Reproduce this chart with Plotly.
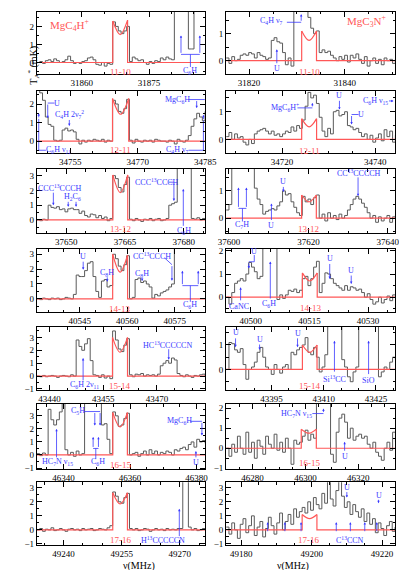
import plotly.graph_objects as go

FONT = "Liberation Serif"
GRAY = "#5a5a5a"
RED = "#ff5757"
BLUE = "#3838ff"

# ---- channel grids (first channel, channel width, MHz) ----
f_first = [31850.0, 31815.2, 34747.6, 34708.0, 37642.5, 37599.3, 40531.5,
           40493.7, 43436.5, 43382.0, 46332.0, 46270.0, 49233.1, 49175.7]
f_step = [0.625, 0.59, 0.623, 0.605, 0.717, 0.71, 0.885,
          0.722, 0.783, 0.81, 0.843, 1.067, 0.725, 0.8]

# ---- observed antenna temperatures (mK); 5 = off scale ----
ta1 = [0.0, 0.05, -0.05, 0.1, 0.15, 0.05, 0.2, 0.1, 0.0, 0.05, 0.15, 0.35, 0.1, -0.05, 0.0, -0.05,
       0.05, 0.1, 0.25, 0.3, 0.15, -0.1, -0.15, 0.0, -0.2, -0.05, -0.1, 2.25, 2.0, 1.75, 1.6, 1.75,
       2.0, 0.05, 0.3, 0.2, 0.1, 0.15, 0.0, -0.1, 0.05, -0.05, 0.1, 0.05, 0.25, 0.15, 0.3, 0.2, 0.15,
       5, 5, 5, 5, 5, 0.75, 0.75, 5, 5, 5, 5, 5]
ta2 = [0.1, -0.1, 0.15, 0.0, 0.05, 0.2, 0.25, 0.2, 0.3, 0.25, 0.1, 0.3, 0.2, 0.15, 0.05, 0.1, 0.75,
       0.85, 0.7, 0.65, 0.3, -0.15, 0.1, -0.2, 5, 5, 5, 5, 5, 1.6, 1.2, 1.0, 1.1, 0.3, 0.4, 0.3, 0.35,
       0.2, 0.1, 0.0, 0.15, 0.05, 0.2, -0.05, 0.2, 0.1, 0.25, 0.05, -0.1, 0.15, -0.2, 0.0, 0.1, -0.1,
       0.05, -0.15, 0.1, 0.0, 0.05, -0.1, 0.05]
ta3 = [3, 2.6, 2.2, 1.3, 0.9, 0.8, 0.05, 0.0, 0.05, 0.6, 0.7, 0.55, 0.6, 0.5, 0.1, -0.15, 0.05, -0.05,
       0.05, 0.0, 0.1, 0.05, 0.0, 0.1, -0.05, 0.05, 0.0, 2.2, 2.0, 1.6, 1.5, 1.75, 2.25, 0.05, -0.1,
       0.1, 0.0, -0.05, 0.05, 0.0, 0.05, -0.05, 0.1, 0.05, 0.0, 0.0, -0.05, 0.05, 0.0, -0.15, 0.1, 0.0,
       -0.05, 0.05, 0.3, 0.8, 1.2, 1.5, 1.3, 1.1, 1.6]
ta4 = [0.1, 0.25, 0.0, 0.2, 0.05, 0.1, -0.1, -0.2, 0.0, -0.15, 0.2, 0.3, 0.35, 0.4, 0.3, 0.2, 0.3, 0.15,
       0.2, 0.1, 0.2, 0.3, 0.25, 0.45, 0.3, 0.5, 0.4, 0.7, 1.2, 1.7, 1.5, 1.6, 1.3, 0.8, 0.3, 0.1, 0.4,
       0.2, 1.0, 1.05, 0.85, 0.9, 1.0, 0.5, 0.45, 0.35, 0.4, 0.25, 0.1, 0.2, 0.0, 0.15, -0.1, 0.05, 0.2,
       -0.05, 0.35, 0.1, 0.3, -0.1, 0.15]
ta5 = [0.0, -0.05, 0.05, 0.0, 1.0, 0.85, 0.8, 0.9, 0.7, 0.75, 0.55, 0.75, 0.8, 0.7, 0.7, 0.45, 0.6, 0.3,
       0.2, 0.4, 0.35, 0.15, 0.3, 0.1, 0.2, -0.05, 0.1, 3.0, 2.8, 2.2, 1.9, 2.4, 2.9, 0.05, -0.05, 0.1,
       0.0, -0.1, 0.05, 0.0, 0.1, -0.05, 0.05, 0.1, -0.05, 0.0, 0.1, 1.0, 1.1, 1.2, 5, 5, 5, 5, 5, 0.1,
       0.05, 0.15, 0.0, 0.1, 0.05]
ta6 = [0.3, 0.5, 5, 5, 5, 5, 5, 5, 5, 5, 1.1, 0.7, 0.5, 0.15, 0.25, 0.3, 0.35, 0.3, 0.45, 0.6, 1.0, 0.85,
       0.9, 0.6, 0.4, 0.2, 0.1, 0.8, 0.6, 0.7, 0.5, 0.75, 0.85, 0.0, 0.15, -0.1, 0.2, 0.0, 0.1, -0.05,
       0.15, 0.0, 0.1, 0.3, 0.5, 0.7, 0.8, 0.7, 0.55, 0.4, 0.2, 0.0, 0.1, -0.15, 0.05, -0.1, 0.0, 0.1,
       -0.15, 0.05, 0.1]
ta7 = [0.0, -0.05, 0.05, 0.0, -0.05, 0.05, 0.0, 0.05, -0.05, 0.0, 0.1, 0.05, 0.0, 0.3, 1.6, 1.5, 1.5,
       1.9, 2.4, 2.5, 1.5, 0.5, 0.1, 1.2, 1.3, 0.8, 0.9, 3.0, 2.7, 2.2, 1.9, 2.3, 2.9, 0.0, 0.1, 1.3,
       1.4, 1.1, 1.2, 1.0, 0.8, 0.05, 0.3, 0.2, 0.4, 0.5, 0.6, 0.8, 1.0, 5, 5, 5, 5, 5, 5, 5, 5, 5, 5,
       5, 5]
ta8 = [0.0, -0.3, 0.2, 0.6, 0.7, 0.8, 0.7, 1.0, 1.5, 1.3, 1.1, 0.8, 0.9, 5, 5, 5, 5, 5, -0.1, 0.1,
       -0.05, 0.1, 0.3, 0.25, 0.35, 0.2, 0.3, 0.8, 0.9, 0.5, 0.8, 1.3, 1.55, 0.2, 0.6, 1.05, 1.0, 0.8,
       0.6, 0.5, 0.4, 0.3, 0.5, 0.3, 0.45, 0.4, 0.3, 0.35, 0.2, 0.0, 0.15, -0.1, -0.3, -0.2, 0.0, -0.25,
       -0.1, 0.05, -0.15, 0.1, 0.0]
ta9 = [0.0, -0.05, 0.05, -0.05, 0.0, 0.05, 0.0, -0.1, 0.0, 0.05, 0.0, -0.05, 0.1, 0.0, 2.8, 2.3, 2.0,
       2.5, 2.9, 1.2, 0.1, 0.05, -0.1, 0.1, -0.15, 0.0, -0.2, 3.5, 2.8, 2.1, 1.9, 2.4, 2.9, 0.1, -0.05,
       0.15, 0.1, 0.2, 0.0, 0.1, 0.05, 0.1, 0.0, 0.15, 0.8, 1.0, 1.2, 1.0, 1.4, 1.25, 0.2, 0.05, -0.05,
       0.1, 0.0, -0.1, 0.05, 0.0, 0.1, 0.15, 0.0]
ta10 = [0.0, 1.1, 1.05, 0.8, 0.7, 0.85, 0.2, -0.4, 0.0, 0.1, 0.3, 0.7, 0.9, 0.5, 0.1, 0.0, -0.2, 0.2,
        0.0, -0.15, 0.1, 0.2, 0.0, 0.7, 0.6, 0.8, 0.9, 1.0, 1.3, 0.7, 0.6, 0.9, 0.5, -0.1, 0.1, 0.6, 5,
        5, 5, 5, 5, 0.4, 0.1, -0.3, -0.5, -0.1, 0.1, 5, 5, 5, 5, 5, 5, 5, -0.3, -0.1, 0.1, 0.0, 0.3,
        0.5, 0.4]
ta11 = [0.1, -0.05, 0.15, 0.0, 3.5, 2.7, 2.3, 2.7, 3.3, 5, 0.4, 0.0, 0.2, -0.1, 0.3, 0.0, 0.1, 5, 5, 5,
        5, 5, 5, 2.3, 2.4, 1.2, 0.1, 3.3, 3.0, 2.2, 2.3, 2.8, 3.2, 0.0, 0.1, 0.2, -0.1, 0.1, 0.3, 0.0,
        0.4, 0.1, 0.3, 0.0, 0.2, 0.1, 0.3, 0.2, 0.0, 0.4, 0.3, 0.5, 0.6, 0.4, 0.8, 1.0, 0.6, 1.2, 1.0,
        1.1, 0.9]
ta12 = [0.0, -0.4, 0.2, -0.2, 0.6, 0.0, -0.3, 0.8, -0.2, 0.3, -0.5, 0.4, 0.1, -0.3, 0.6, 0.2, 0.0, 0.7,
        -0.1, 0.3, -0.2, 0.5, 0.0, -0.8, 0.4, 0.2, 0.3, 0.6, 0.9, 0.4, 0.7, 0.5, 5, 5, 5, 5, 5, -0.3,
        -0.7, 0.8, 1.5, 1.7, 1.3, 0.5, 1.0, 0.4, 0.6, 0.7, 0.5, 0.6, 0.2, 0.0, 0.3, -0.2, -0.4, -0.6,
        0.0, 0.3, -0.1, 0.8, 0.3]
ta13 = [0.0, 0.1, -0.1, 0.05, 0.0, 0.15, -0.05, 0.0, 0.1, 0.0, -0.1, 0.05, 0.1, 0.0, 0.05, -0.05, 0.1,
        0.0, 0.05, 0.1, -0.05, 0.0, 0.1, 0.05, 0.0, 0.15, 0.3, 2.7, 2.4, 2.0, 1.9, 2.3, 2.6, 0.1, 0.0,
        0.1, -0.05, 0.0, 0.1, 0.05, -0.1, 0.0, 0.1, 0.0, 0.05, -0.05, 0.1, 0.0, 0.05, 0.0, 0.1, 0.1, 5,
        5, 0.2, 0.0, 0.1, -0.05, 0.0, 0.1, 0.05]
ta14 = [0.2, -0.3, 0.5, 0.0, -0.6, 0.4, 0.8, -0.2, 0.3, 1.0, -0.4, 0.2, 0.6, -0.5, 0.1, 0.9, 0.3, -0.3,
        0.5, 1.2, 0.0, 0.6, 1.1, 0.4, 1.5, 0.9, 1.3, 1.6, 1.2, 2.0, 1.4, 2.3, 1.8, 1.5, 2.6, 1.9, 5, 2.2,
        1.7, 2.8, 5, 2.4, 1.6, 2.0, 1.1, 1.8, 1.3, 0.9, 1.5, 0.6, 1.2, 0.4, 0.8, -0.2, 0.5, 0.1, -0.4,
        0.3, 0.6, -0.1, 0.2]

# ---- model line profiles: edges (MHz), horn and centre intensities (mK) ----
model_lo = [31866.9, 31831.0, 34764.4, 34724.2, 37661.9, 37618.3, 40555.4,
            40513.2, 43457.6, 43403.9, 46354.8, 46298.4, 49252.7, 49197.3]
model_hi = [31870.2, 31834.1, 34768.0, 34727.4, 37665.7, 37622.0, 40560.1,
            40517.0, 43461.8, 43408.1, 46359.2, 46304.1, 49256.5, 49201.5]
model_left = [2.3, 1.1, 2.3, 0.75, 3.05, 0.85, 3.0, 1.05, 3.0, 1.0, 3.25, 0.95, 2.65, 1.1]
model_mid = [1.55, 0.75, 1.45, 0.45, 1.85, 0.6, 1.8, 0.7, 1.85, 0.7, 2.15, 0.75, 1.85, 0.8]
model_right = [2.35, 1.1, 2.3, 0.75, 3.05, 0.85, 2.95, 1.05, 3.0, 1.0, 3.25, 0.95, 2.65, 1.1]

trans = ["11-10", "11-10", "12-11", "12-11", "13-12", "13-12", "14-13",
         "14-13", "15-14", "15-14", "16-15", "16-15", "17-16", "17-16"]
trans_x = [31868.6, 31832.6, 34766.2, 34725.8, 37663.9, 37620.0, 40557.4,
           40515.4, 43459.7, 43405.8, 46357.1, 46301.4, 49254.7, 49199.0]
trans_y = [-0.5, -0.4, -0.5, -0.42, -0.6, -0.39, -0.65, -0.46, -0.76, -0.69, -0.8, -0.76, -0.75, -0.75]

# ---- axes ----
x_range = [[31850, 31887.5], [31815.2, 31850.6], [34747.6, 34785], [34708, 34744.3],
           [37642.5, 37685.5], [37599.3, 37641.9], [40531.5, 40584.6], [40493.7, 40537],
           [43436.5, 43483.5], [43382, 43430.6], [46332, 46382.6], [46270, 46334],
           [49233.1, 49276.6], [49175.7, 49223.8]]
y_range = [[-0.65, 2.8], [-0.5, 1.8], [-0.65, 2.7], [-0.5, 1.75], [-0.9, 3.45], [-0.55, 1.8],
           [-0.9, 3.35], [-0.65, 2.08], [-1.1, 3.8], [-0.85, 1.73], [-1.1, 3.9], [-1.05, 2.2],
           [-1.1, 3.4], [-1.1, 3.4]]
x_ticks = [[31860, 31875], [31820, 31840], [34755, 34770, 34785], [34720, 34740],
           [37650, 37665, 37680], [37600, 37620, 37640], [40545, 40560, 40575], [40500, 40515, 40530],
           [43440, 43455, 43470], [43395, 43410, 43425], [46340, 46360, 46380], [46280, 46300, 46320],
           [49240, 49255, 49270], [49180, 49200, 49220]]
y_ticks = [[0, 1, 2], [0, 1], [0, 1, 2], [0, 1], [0, 1, 2, 3], [0, 1], [0, 1, 2, 3], [0, 1, 2],
           [-1, 0, 1, 2, 3], [0, 1], [-1, 0, 1, 2, 3], [-1, 0, 1, 2], [-1, 0, 1, 2, 3], [-1, 0, 1, 2, 3]]

# ---- blue identifications: labels, arrows (tail -> tip), bracket lines ----
lab1 = [("C<sub>6</sub>H", 31884.2, -0.45)]
arr1 = [(31882.1, 0.45, 31882.1, 1.5), (31886.3, 0.45, 31886.3, 1.5)]
lin1 = [([31882.1, 31886.3], [0.45, 0.45]), ([31884.2, 31884.2], [0.45, -0.25])]

lab2 = [("C<sub>4</sub>H ν<sub>7</sub>", 31824.6, 1.45), ("U", 31825.8, -0.3)]
arr2 = [(31830.9, 1.42, 31830.9, 1.72), (31825.8, -0.15, 31825.8, 0.42)]
lin2 = [([31827.9, 31830.9], [1.42, 1.42])]

lab3 = [("U", 34752.1, 2.05), ("C<sub>4</sub>H 2ν<sub>7</sub><sup>2</sup>", 34754.9, 1.45),
        ("C<sub>6</sub>H ν<sub>11</sub>", 34752.5, -0.49), ("MgC<sub>6</sub>H", 34778.9, 2.24),
        ("C<sub>4</sub>H ν<sub>7</sub>", 34778.9, -0.49)]
arr3 = [(34750.0, 2.05, 34750.0, 1.24), (34754.8, 1.22, 34754.8, 0.82), (34748.0, 1.2, 34748.0, 1.5),
        (34783.1, 2.24, 34783.1, 1.78), (34784.6, 1.1, 34784.6, 1.42)]
lin3 = [([34751.5, 34750.0], [2.05, 2.05]), ([34749.6, 34748.0, 34748.0], [-0.49, -0.49, 1.2]),
        ([34781.3, 34784.9], [2.24, 2.24]), ([34781.3, 34784.6, 34784.6], [-0.49, -0.49, 1.1])]

lab4 = [("MgC<sub>6</sub>H<sup>+</sup>", 34720.7, 1.14), ("U", 34732.3, 1.57), ("U", 34737.0, 0.9),
        ("C<sub>6</sub>H ν<sub>15</sub>", 34740.1, 1.39)]
arr4 = [(34726.5, 1.14, 34726.5, 1.32), (34732.3, 1.45, 34732.3, 1.08), (34734.9, 0.9, 34734.9, 0.54),
        (34742.6, 1.39, 34743.9, 1.39)]
lin4 = [([34723.3, 34726.5], [1.14, 1.14]), ([34736.4, 34734.9], [0.9, 0.9])]

lab5 = [("CCC<sup>13</sup>CCCH", 37648.5, 2.18), ("H<sub>2</sub>C<sub>6</sub>", 37651.6, 1.56),
        ("CCC<sup>13</sup>CCCH", 37673.2, 2.56), ("C<sub>6</sub>H", 37680.1, -0.72)]
arr5 = [(37646.7, 1.95, 37646.7, 1.0), (37650.5, 1.33, 37650.5, 0.89), (37652.5, 1.33, 37652.5, 0.89),
        (37677.5, 2.56, 37677.5, 1.29), (37679.9, -0.5, 37679.9, 2.1)]
lin5 = [([37676.2, 37677.5], [2.56, 2.56])]

lab6 = [("C<sub>7</sub>H", 37603.4, -0.26), ("U", 37613.7, 1.33), ("U", 37610.7, -0.28),
        ("CC<sup>13</sup>CCCCH", 37632.8, 1.67)]
arr6 = [(37602.4, 0.36, 37602.4, 1.12), (37604.4, 0.36, 37604.4, 1.12), (37613.7, 1.2, 37613.7, 0.96),
        (37610.7, -0.12, 37610.7, 0.54), (37632.5, 1.55, 37632.5, 0.81)]
lin6 = [([37602.4, 37604.4], [0.36, 0.36]), ([37603.4, 37603.4], [0.36, -0.12])]

lab7 = [("U", 40546.1, 2.82), ("C<sub>8</sub>H", 40553.7, 1.75), ("C<sub>8</sub>H", 40564.7, 1.65),
        ("CC<sup>13</sup>CCCH", 40567.9, 2.89), ("C<sub>6</sub>H", 40579.9, -0.44)]
arr7 = [(40546.1, 2.6, 40546.1, 1.96), (40553.7, 1.55, 40553.7, 1.15), (40564.7, 1.47, 40564.7, 1.2),
        (40574.1, 2.3, 40574.1, 1.22), (40577.4, 0.89, 40577.4, 1.89), (40582.4, 0.89, 40582.4, 1.89)]
lin7 = [([40571.8, 40574.1], [2.75, 2.3]), ([40577.4, 40582.4], [0.89, 0.89]),
        ([40579.9, 40579.9], [0.89, -0.2])]

lab8 = [("CaNC", 40496.9, -0.39), ("U", 40500.9, 1.96), ("C<sub>6</sub>H", 40504.6, -0.29),
        ("U", 40520.2, 1.67), ("U", 40525.7, 1.14)]
arr8 = [(40497.4, -0.2, 40497.4, 0.43), (40499.5, 1.53, 40499.5, 1.24), (40505.0, -0.12, 40505.0, 1.54),
        (40520.2, 1.5, 40520.2, 0.79), (40525.7, 1.0, 40525.7, 0.57)]
lin8 = [([40500.9, 40500.9, 40499.5], [1.82, 1.53, 1.53])]

lab9 = [("C<sub>6</sub>H 2ν<sub>11</sub>", 43449.7, -0.66), ("HC<sup>13</sup>CCCCCN", 43473.1, 2.42)]
arr9 = [(43449.4, -0.45, 43449.4, 1.4), (43473.3, 2.2, 43473.3, 1.27)]
lin9 = []

lab10 = [("U", 43384.7, 1.49), ("U", 43391.6, 1.23), ("U", 43402.5, 1.47),
         ("Si<sup>13</sup>CC", 43413.1, -0.37), ("SiO", 43422.9, -0.47)]
arr10 = [(43384.7, 1.33, 43384.7, 0.91), (43391.6, 1.08, 43391.6, 0.8), (43402.5, 1.33, 43402.5, 0.91),
         (43413.1, -0.15, 43413.1, 1.17), (43422.9, -0.25, 43422.9, 1.17)]
lin10 = []

lab11 = [("HC<sub>7</sub>N ν<sub>15</sub>", 46338.1, -0.55), ("C<sub>5</sub>H", 46344.3, 3.38),
         ("C<sub>6</sub>H", 46350.3, -0.55), ("MgC<sub>6</sub>H", 46374.8, 2.58), ("U", 46379.8, -0.55)]
arr11 = [(46337.9, -0.3, 46337.9, 2.0), (46349.4, 3.33, 46349.4, 2.25), (46351.0, 3.33, 46351.0, 2.25),
         (46348.9, 0.5, 46348.9, 1.38), (46350.5, 0.5, 46350.5, 1.38), (46381.6, 2.58, 46381.6, 1.5),
         (46379.8, -0.3, 46379.8, 0.3)]
lin11 = [([46346.2, 46351.0], [3.33, 3.33]), ([46348.9, 46350.5], [0.5, 0.5]),
         ([46349.7, 46349.7], [0.5, -0.3]), ([46378.1, 46381.6], [2.58, 2.58])]

lab12 = [("HC<sub>7</sub>N ν<sub>15</sub>", 46296.6, 1.73), ("U", 46314.8, -0.4)]
arr12 = [(46306.8, 1.73, 46306.8, 1.98), (46314.8, -0.2, 46314.8, 0.32)]
lin12 = [([46302.6, 46306.8], [1.73, 1.73])]

lab13 = [("H<sup>13</sup>CCCCCN", 49265.7, -0.75)]
arr13 = [(49269.9, -0.55, 49269.9, 1.5)]
lin13 = []

lab14 = [("C<sup>13</sup>CCN", 49211.0, -0.75), ("U", 49210.0, 3.0), ("U", 49219.0, 2.45)]
arr14 = [(49187.5, -0.2, 49187.5, 0.55), (49192.4, -0.2, 49192.4, 0.55), (49197.0, -0.2, 49197.0, 0.55),
         (49207.0, -0.2, 49207.0, 0.55), (49211.0, -0.2, 49211.0, 0.55), (49215.1, -0.2, 49215.1, 0.55),
         (49218.5, -0.2, 49218.5, 0.55), (49210.0, 2.8, 49210.0, 2.3), (49219.0, 2.25, 49219.0, 1.9)]
lin14 = []

spectra = [ta1, ta2, ta3, ta4, ta5, ta6, ta7, ta8, ta9, ta10, ta11, ta12, ta13, ta14]
labels = [lab1, lab2, lab3, lab4, lab5, lab6, lab7, lab8, lab9, lab10, lab11, lab12, lab13, lab14]
arrows = [arr1, arr2, arr3, arr4, arr5, arr6, arr7, arr8, arr9, arr10, arr11, arr12, arr13, arr14]
brackets = [lin1, lin2, lin3, lin4, lin5, lin6, lin7, lin8, lin9, lin10, lin11, lin12, lin13, lin14]

W, H = 407, 570
col_px = [(22, 199), (221, 399)]
row_px = [(1, 64), (81, 144), (160, 225), (241, 305), (320, 384), (398, 464), (477, 541)]

fig = go.Figure()
layout = dict(width=W, height=H, margin=dict(l=0, r=0, t=0, b=0), showlegend=False,
              paper_bgcolor="white", plot_bgcolor="white", font=dict(family=FONT, color="black"))
annotations = []

for k in range(14):
    n = k + 1
    xs = "x" if n == 1 else f"x{n}"
    ys = "y" if n == 1 else f"y{n}"
    row, col = k // 2, k % 2

    freqs = [f_first[k] + i * f_step[k] for i in range(len(spectra[k]))]
    fig.add_trace(go.Scatter(x=freqs, y=spectra[k], mode="lines", xaxis=xs, yaxis=ys,
                             line=dict(color=GRAY, width=1, shape="hv"), hoverinfo="skip"))

    lo, hi = model_lo[k], model_hi[k]
    fig.add_trace(go.Scatter(x=[x_range[k][0], lo, lo, None, hi, hi, x_range[k][1]],
                             y=[0, 0, model_left[k], None, model_right[k], 0, 0],
                             mode="lines", xaxis=xs, yaxis=ys,
                             line=dict(color=RED, width=1.2), hoverinfo="skip"))
    fig.add_trace(go.Scatter(x=[lo, (lo + hi) / 2, hi],
                             y=[model_left[k], model_mid[k], model_right[k]],
                             mode="lines", xaxis=xs, yaxis=ys,
                             line=dict(color=RED, width=1.2, shape="spline"), hoverinfo="skip"))

    for bx, by in brackets[k]:
        fig.add_trace(go.Scatter(x=bx, y=by, mode="lines", xaxis=xs, yaxis=ys,
                                 line=dict(color=BLUE, width=0.8), hoverinfo="skip"))

    for x0, y0, x1, y1 in arrows[k]:
        annotations.append(dict(x=x1, y=y1, ax=x0, ay=y0, xref=xs, yref=ys, axref=xs, ayref=ys,
                                text="", showarrow=True, arrowhead=2, arrowsize=0.6,
                                arrowwidth=0.8, arrowcolor=BLUE, standoff=0, startstandoff=0))
    for txt, lx, ly in labels[k]:
        annotations.append(dict(x=lx, y=ly, xref=xs, yref=ys, text=txt, showarrow=False,
                                font=dict(family=FONT, size=8, color=BLUE)))

    annotations.append(dict(x=trans_x[k], y=trans_y[k], xref=xs, yref=ys, text=trans[k],
                            showarrow=False, font=dict(family=FONT, size=9, color=RED)))

    x0p, x1p = col_px[col]
    t, b = row_px[row]
    common = dict(showline=True, linecolor="black", linewidth=1, mirror="ticks", ticks="inside",
                  tickcolor="black", tickwidth=1, showgrid=False, zeroline=False,
                  tickfont=dict(family=FONT, size=9, color="black"))
    layout["xaxis" if n == 1 else f"xaxis{n}"] = dict(
        domain=[x0p / W, x1p / W], range=x_range[k], tickvals=x_ticks[k], tickformat="d",
        anchor=ys, ticklen=5,
        minor=dict(ticks="inside", ticklen=2.5, dtick=5, tick0=0, tickcolor="black"),
        **common)
    layout["yaxis" if n == 1 else f"yaxis{n}"] = dict(
        domain=[1 - b / H, 1 - t / H], range=y_range[k], tickvals=y_ticks[k], anchor=xs,
        ticklen=5, minor=dict(ticks="inside", ticklen=2.5, dtick=0.5, tick0=0, tickcolor="black"),
        **common)

# molecule names
annotations.append(dict(x=31852.4, y=2.1, xref="x", yref="y", xanchor="left", showarrow=False,
                        text="MgC<sub>4</sub>H<sup>+</sup>", font=dict(family=FONT, size=11, color=RED)))
annotations.append(dict(x=31844.5, y=1.45, xref="x2", yref="y2", showarrow=False,
                        text="MgC<sub>3</sub>N<sup>+</sup>", font=dict(family=FONT, size=11, color=RED)))
# axis titles
annotations.append(dict(x=9 / W, y=1 - 33 / H, xref="paper", yref="paper", showarrow=False,
                        textangle=-90, text="T<sub>A</sub><sup>*</sup> (mK)",
                        font=dict(family=FONT, size=10, color="black")))
for cx in [(22 + 199) / 2 / W, (221 + 399) / 2 / W]:
    annotations.append(dict(x=cx, y=0, xref="paper", yref="paper", yanchor="bottom",
                            showarrow=False, text="ν(MHz)",
                            font=dict(family=FONT, size=10, color="black")))

layout["annotations"] = annotations
fig.update_layout(**layout)
fig.write_html("out.html")
